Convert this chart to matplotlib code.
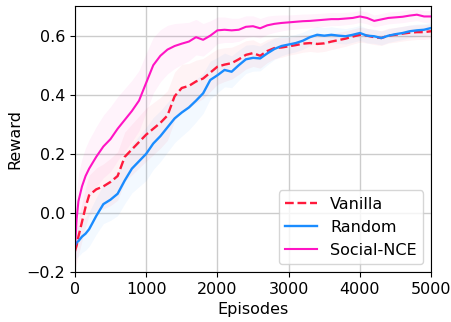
import numpy as np
import matplotlib
matplotlib.use('Agg')
from matplotlib import pyplot as plt

# episode grid (denser at the start)
episodes = [0, 25, 50, 100, 150, 200] + list(range(300, 5001, 100))

vanilla = [-0.13, -0.11, -0.08, -0.03, 0.02, 0.06,
           0.08, 0.09, 0.105, 0.125, 0.19, 0.215, 0.24, 0.265, 0.285, 0.305,
           0.33, 0.395, 0.423, 0.43, 0.445, 0.455, 0.475, 0.495, 0.502, 0.507,
           0.52, 0.535, 0.541, 0.532, 0.548, 0.558, 0.56, 0.564, 0.568, 0.573,
           0.575, 0.572, 0.574, 0.58, 0.585, 0.59, 0.597, 0.603, 0.60, 0.595,
           0.592, 0.60, 0.603, 0.607, 0.61, 0.612, 0.612, 0.615]
random_ = [-0.11, -0.10, -0.095, -0.08, -0.07, -0.055,
           -0.01, 0.03, 0.045, 0.065, 0.11, 0.15, 0.175, 0.20, 0.235, 0.26,
           0.29, 0.32, 0.34, 0.357, 0.38, 0.405, 0.45, 0.466, 0.484, 0.478,
           0.50, 0.52, 0.525, 0.523, 0.54, 0.555, 0.565, 0.57, 0.575, 0.583,
           0.595, 0.603, 0.60, 0.603, 0.60, 0.598, 0.603, 0.609, 0.60, 0.598,
           0.592, 0.60, 0.605, 0.609, 0.615, 0.618, 0.62, 0.626]
social = [-0.12, -0.02, 0.04, 0.09, 0.125, 0.15,
          0.19, 0.225, 0.25, 0.285, 0.315, 0.345, 0.38, 0.44, 0.50, 0.532,
          0.553, 0.565, 0.573, 0.58, 0.595, 0.586, 0.60, 0.618, 0.62, 0.618,
          0.62, 0.63, 0.632, 0.625, 0.635, 0.64, 0.643, 0.645, 0.647, 0.649,
          0.65, 0.652, 0.654, 0.656, 0.656, 0.658, 0.66, 0.665, 0.66, 0.65,
          0.655, 0.66, 0.662, 0.664, 0.668, 0.671, 0.665, 0.665]

# rough spread of the shaded bands
band_x = [0, 500, 1000, 1500, 2000, 3000, 4000, 5000]
vanilla_sd = [0.06, 0.08, 0.09, 0.08, 0.06, 0.03, 0.025, 0.025]
random_sd = [0.05, 0.07, 0.09, 0.08, 0.06, 0.03, 0.025, 0.02]
social_sd = [0.09, 0.11, 0.10, 0.07, 0.045, 0.025, 0.02, 0.02]

c_van = '#ff1a3c'
c_ran = '#1a8cff'
c_soc = '#ff14c4'

fig = plt.figure(figsize=(4.51, 3.22), dpi=100)
ax = fig.add_axes([0.166, 0.155, 0.79, 0.826])

x = np.array(episodes)
for y, sd, c in [(vanilla, vanilla_sd, c_van), (random_, random_sd, c_ran), (social, social_sd, c_soc)]:
    s = np.interp(x, band_x, sd)
    ax.fill_between(x, np.array(y) - s, np.array(y) + s, color=c, alpha=0.05, lw=0)

ax.plot(x, vanilla, color=c_van, ls='--', lw=1.7, label='Vanilla')
ax.plot(x, random_, color=c_ran, lw=1.7, label='Random')
ax.plot(x, social, color=c_soc, lw=1.5, label='Social-NCE')

ax.set_xlim(0, 5000)
ax.set_ylim(-0.2, 0.7)
ax.set_yticks([-0.2, 0.0, 0.2, 0.4, 0.6])
ax.set_xticks([0, 1000, 2000, 3000, 4000, 5000])
ax.grid(True, color='#cccccc', lw=1)
ax.set_axisbelow(True)
ax.tick_params(labelsize=11.5)
ax.set_xlabel('Episodes', fontsize=11.5, labelpad=4)
ax.set_ylabel('Reward', fontsize=11.5, labelpad=3)
ax.legend(loc='lower right', fontsize=11.5, handlelength=2.0)

plt.savefig('out.png', dpi=100)
